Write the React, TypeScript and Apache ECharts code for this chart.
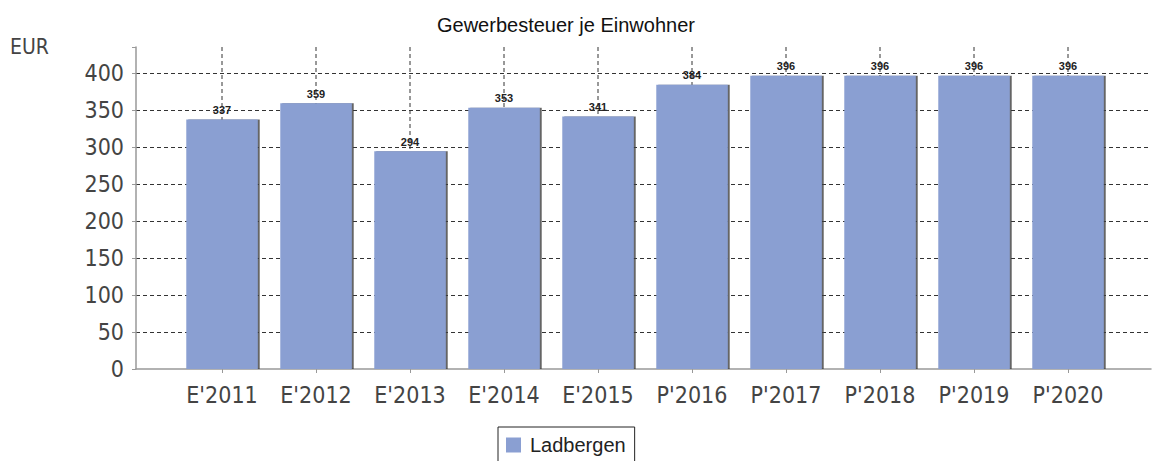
import React, { useEffect, useRef } from "react";
import * as echarts from "echarts";

const categories = ["E'2011", "E'2012", "E'2013", "E'2014", "E'2015", "P'2016", "P'2017", "P'2018", "P'2019", "P'2020"];
const values = [337, 359, 294, 353, 341, 384, 396, 396, 396, 396];
const seriesName = "Ladbergen";
const titleText = "Gewerbesteuer je Einwohner";
const unitText = "EUR";
const yMin = 0;
const yMax = 435;
const yInterval = 50;

const axisFont = "'DejaVu Sans Condensed', 'DejaVu Sans', sans-serif";
const textFont = "'Liberation Sans', Arial, sans-serif";
const barColor = "#8a9fd2";

export default function App() {
  const ref = useRef<HTMLDivElement>(null);
  useEffect(() => {
    if (!ref.current) return;
    const chart = echarts.init(ref.current, null, { renderer: "svg" });
    chart.setOption({
      animation: false,
      backgroundColor: "#ffffff",
      title: {
        text: titleText,
        left: 432,
        top: 10,
        textStyle: { fontFamily: textFont, fontSize: 20, fontWeight: "normal", color: "#111" },
      },
      graphic: [
        {
          type: "text",
          left: 10,
          top: 36,
          style: { text: unitText, font: `21px ${axisFont}`, fill: "#444" },
        },
      ],
      legend: {
        show: true,
        data: [seriesName],
        left: 498,
        top: 427,
        orient: "horizontal",
        icon: "rect",
        itemWidth: 15,
        itemHeight: 15,
        padding: [8, 9, 10, 8],
        borderColor: "#222",
        borderWidth: 1,
        textStyle: { fontFamily: textFont, fontSize: 20, color: "#222", padding: [0, 0, 0, 4] },
      },
      grid: [
        { left: 136, right: 2, top: 47, height: 322, containLabel: false },
        { left: 175, width: 940, top: 47, height: 322, containLabel: false },
      ],
      xAxis: [
        {
          type: "value",
          gridIndex: 0,
          min: 0,
          max: 1,
          axisLine: { show: true, lineStyle: { color: "#999", width: 1.5 } },
          axisTick: { show: false },
          axisLabel: { show: false },
          splitLine: { show: false },
        },
        {
          type: "category",
          gridIndex: 1,
          data: categories,
          boundaryGap: true,
          axisLine: { show: false },
          axisTick: { show: true, alignWithLabel: true, length: 4, lineStyle: { color: "#999" } },
          axisLabel: { fontFamily: axisFont, fontSize: 23, color: "#444", margin: 14 },
          splitLine: { show: false },
        },
      ],
      yAxis: [
        {
          type: "value",
          gridIndex: 0,
          min: yMin,
          max: yMax,
          interval: yInterval,
          axisLine: { show: true, lineStyle: { color: "#999", width: 1.5 } },
          axisTick: { show: true, length: 4, lineStyle: { color: "#999" } },
          axisLabel: {
            fontFamily: axisFont,
            fontSize: 23,
            color: "#444",
            margin: 12,
            formatter: (v: number) => (v % yInterval === 0 ? String(v) : ""),
          },
          splitLine: {
            show: true,
            showMinLine: false,
            showMaxLine: false,
            lineStyle: { color: "#333", type: [4, 3], width: 1 },
          },
        },
        {
          type: "value",
          gridIndex: 1,
          min: yMin,
          max: yMax,
          interval: yInterval,
          axisLine: { show: false },
          axisTick: { show: false },
          axisLabel: { show: false },
          splitLine: { show: false },
        },
      ],
      series: [
        {
          type: "custom",
          xAxisIndex: 1,
          yAxisIndex: 1,
          z: 1,
          silent: true,
          data: categories.map((_, i) => [i, yMax]),
          renderItem: (params: any, api: any) => {
            const top = api.coord([api.value(0), yMax]);
            const bottom = api.coord([api.value(0), yMin]);
            return {
              type: "line",
              shape: { x1: top[0], y1: top[1], x2: bottom[0], y2: bottom[1] },
              style: { stroke: "#333", lineWidth: 1, lineDash: [4, 3] },
            };
          },
        },
        {
          type: "bar",
          name: seriesName,
          xAxisIndex: 1,
          yAxisIndex: 1,
          z: 3,
          data: values,
          barCategoryGap: "24%",
          itemStyle: {
            color: barColor,
            shadowColor: "rgba(60,60,60,0.8)",
            shadowOffsetX: 2,
            shadowOffsetY: 0,
            shadowBlur: 1,
          },
          label: {
            show: true,
            position: "top",
            distance: 4,
            fontFamily: textFont,
            fontSize: 11,
            fontWeight: "bold",
            color: "#222",
          },
        },
      ],
    });
    return () => chart.dispose();
  }, []);
  return (
    <div
      ref={ref}
      style={{ position: "absolute", left: 0, top: 0, width: 1153, height: 461 }}
    />
  );
}
